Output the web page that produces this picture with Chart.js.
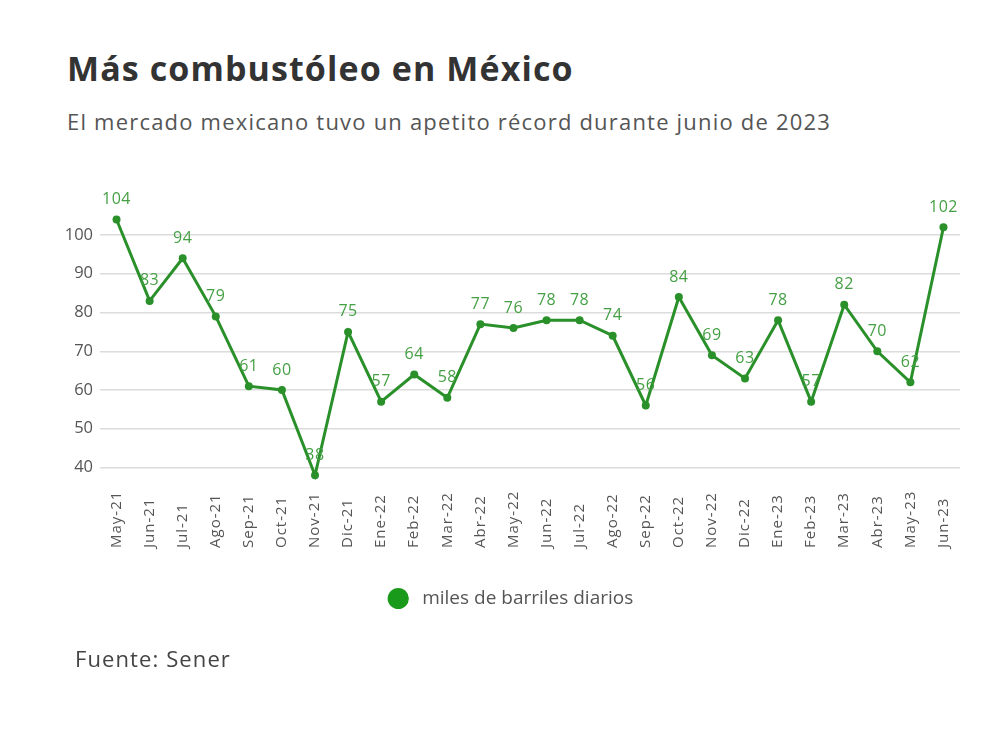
<!DOCTYPE html>
<html>
<head>
<meta charset="utf-8">
<script src="https://cdn.jsdelivr.net/npm/chart.js@4"></script>
<style>
  body { margin: 0; background: #fff; }
  #wrap { position: relative; width: 1000px; height: 755px; overflow: hidden; }
  #grafica { position: absolute; left: 0; top: 0; }
  .txt { position: absolute; left: 67px; white-space: nowrap; font-family: "Open Sans", sans-serif; }
  #titulo { top: 46px; font-size: 34px; font-weight: 700; color: #333; line-height: 44px; letter-spacing: 1.1px; }
  #subtitulo { top: 106px; font-size: 22px; color: #555; line-height: 30px; letter-spacing: 1.2px; }
  #fuente { left: 75px; top: 644px; font-size: 22px; color: #444; line-height: 28px; letter-spacing: 1.1px; }
</style>
</head>
<body>
<div id="wrap">
  <div class="txt" id="titulo">Más combustóleo en México</div>
  <div class="txt" id="subtitulo">El mercado mexicano tuvo un apetito récord durante junio de 2023</div>
  <canvas id="grafica" width="1000" height="755"></canvas>
  <div class="txt" id="fuente">Fuente: Sener</div>
</div>
<script>
const meses = ['May-21', 'Jun-21', 'Jul-21', 'Ago-21', 'Sep-21', 'Oct-21', 'Nov-21', 'Dic-21',
  'Ene-22', 'Feb-22', 'Mar-22', 'Abr-22', 'May-22', 'Jun-22', 'Jul-22', 'Ago-22', 'Sep-22',
  'Oct-22', 'Nov-22', 'Dic-22', 'Ene-23', 'Feb-23', 'Mar-23', 'Abr-23', 'May-23', 'Jun-23'];
const barriles = [104, 83, 94, 79, 61, 60, 38, 75, 57, 64, 58, 77, 76, 78, 78, 74, 56,
  84, 69, 63, 78, 57, 82, 70, 62, 102];
const ticksY = [40, 50, 60, 70, 80, 90, 100];

const verde = '#2a902a';
const fuenteTxt = '"Open Sans", sans-serif';

// etiquetas de valor encima de cada punto
const etiquetas = {
  id: 'etiquetas',
  afterDatasetsDraw(chart) {
    const ctx = chart.ctx;
    const meta = chart.getDatasetMeta(0);
    ctx.save();
    ctx.font = '16px ' + fuenteTxt;
    ctx.letterSpacing = '0.5px';
    ctx.fillStyle = '#45a045';
    ctx.textAlign = 'center';
    ctx.textBaseline = 'middle';
    meta.data.forEach((pt, i) => {
      ctx.fillText(barriles[i], pt.x, pt.y - 20);
    });
    ctx.restore();
  }
};

// meses en vertical, alineados por abajo
const mesesX = {
  id: 'mesesX',
  afterDraw(chart) {
    const ctx = chart.ctx;
    const x = chart.scales.x;
    ctx.save();
    ctx.font = '15px ' + fuenteTxt;
    ctx.letterSpacing = '1px';
    ctx.fillStyle = '#555';
    ctx.textAlign = 'left';
    ctx.textBaseline = 'middle';
    meses.forEach((m, i) => {
      ctx.save();
      ctx.translate(x.getPixelForTick(i), 548);
      ctx.rotate(-Math.PI / 2);
      ctx.fillText(m, 0, 0);
      ctx.restore();
    });
    ctx.restore();
  }
};

const config = {
  type: 'line',
  data: {
    labels: meses,
    datasets: [{
      label: 'miles de barriles diarios',
      data: barriles,
      borderColor: verde,
      backgroundColor: verde,
      borderWidth: 3,
      pointRadius: 4,
      pointBackgroundColor: verde,
      pointBorderWidth: 0,
      tension: 0
    }]
  },
  options: {
    responsive: false,
    animation: false,
    layout: { padding: { top: 204, right: 40, left: 62, bottom: 137 } },
    scales: {
      x: {
        offset: true,
        grid: { display: false },
        border: { display: false },
        ticks: { display: false },
        afterFit: s => { s.height = 96; }
      },
      y: {
        min: 36,
        max: 108,
        grid: { color: '#dcdcdc', lineWidth: 1.5, drawTicks: false },
        border: { display: false },
        ticks: { padding: 7, color: '#555', font: { family: fuenteTxt, size: 16.5 } },
        afterBuildTicks: s => { s.ticks = ticksY.map(v => ({ value: v })); },
        afterFit: s => { s.width = 38; }
      }
    },
    plugins: {
      legend: {
        position: 'bottom',
        labels: {
          usePointStyle: true,
          boxHeight: 15,
          padding: 10,
          color: '#555',
          font: { family: fuenteTxt, size: 19 },
          generateLabels: () => [{
            text: ' miles de barriles diarios',
            fillStyle: '#1a9a1a',
            strokeStyle: '#1a9a1a',
            fontColor: '#555',
            lineWidth: 0,
            pointStyle: 'circle',
            datasetIndex: 0
          }]
        }
      },
      tooltip: { enabled: false }
    }
  },
  plugins: [etiquetas, mesesX]
};

const chart = new Chart(document.querySelector('#grafica'), config);
</script>
</body>
</html>
